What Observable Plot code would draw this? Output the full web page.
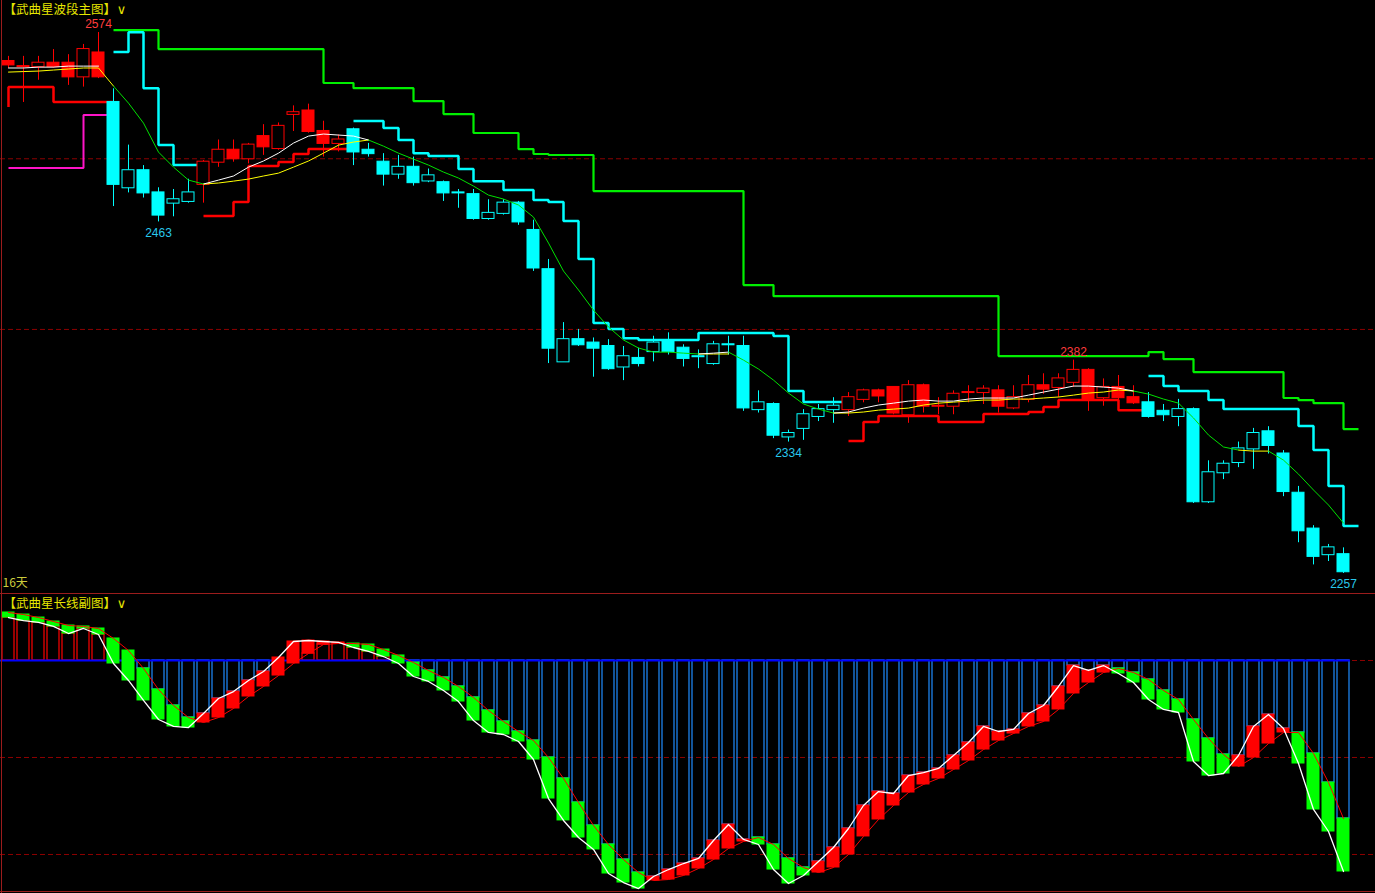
<!DOCTYPE html>
<html>
<head>
<meta charset="utf-8">
<script src="https://cdn.jsdelivr.net/npm/d3@7"></script>
<script src="https://cdn.jsdelivr.net/npm/@observablehq/plot@0.6"></script>
<style>
html,body{margin:0;padding:0;background:#000;overflow:hidden;}
#wrap{position:relative;width:1375px;height:893px;background:#000;}
#wrap svg{display:block;position:absolute;left:0;overflow:visible;}
.border{position:absolute;background:#9b1c1c;}
</style>
</head>
<body>
<div id="wrap"></div>
<script>
// ---------------- DATA ----------------
const mainTitle = "【武曲星波段主图】";
const subTitle = "【武曲星长线副图】";
const periodLabel = "16天";

// candles (price), one per trading day, left to right
const open = [2557,2554,2554,2556,2556,2548,2562,2533,2483,2493,
  2480,2474,2475,2485,2498,2505,2500,2513,2506,2526,
  2528,2516,2509,2517,2505,2498,2491,2495,2487,2486,
  2480,2479,2465,2468,2474,2458,2435,2381,2394,2392,
  2390,2378,2383,2387,2393,2389,2384,2380,2391,2390,
  2353,2356,2337,2342,2349,2353,2353,2359,2364,2366,
  2350,2367,2355,2355,2363,2363,2364,2354,2359,2367,
  2366,2369,2376,2360,2366,2360,2357,2352,2349,2353,
  2299,2316,2322,2330,2340,2327,2304,2283,2268,2268];
const close = [2555,2554,2556,2554,2548,2564,2548,2485,2493,2480,
  2467,2476,2480,2498,2505,2500,2508,2507,2519,2527,
  2516,2509,2511,2504,2503,2491,2495,2486,2490,2480,
  2480,2465,2468,2474,2463,2436,2389,2394,2391,2389,
  2377,2384,2380,2392,2387,2383,2384,2391,2391,2354,
  2357,2338,2339,2350,2353,2355,2360,2364,2361,2351,
  2367,2355,2355,2362,2363,2365,2355,2360,2367,2365,
  2371,2376,2359,2366,2360,2357,2349,2350,2353,2299,
  2316,2321,2330,2339,2332,2305,2282,2267,2272,2258];
const high = [2560,2560,2560,2564,2561,2567,2574,2541,2508,2496,
  2483,2482,2488,2499,2511,2511,2509,2520,2521,2531,
  2532,2522,2514,2518,2509,2503,2502,2501,2494,2487,
  2482,2482,2476,2476,2475,2464,2441,2404,2400,2395,
  2394,2390,2389,2396,2398,2391,2388,2393,2396,2396,
  2364,2357,2341,2353,2356,2360,2363,2365,2365,2366,
  2370,2368,2360,2364,2367,2367,2367,2367,2373,2374,
  2374,2382,2377,2371,2373,2367,2363,2356,2359,2354,
  2323,2323,2334,2342,2343,2329,2308,2285,2274,2272];
const low = [2553,2533,2546,2553,2543,2542,2547,2472,2480,2477,
  2463,2466,2474,2474,2495,2498,2497,2502,2505,2516,
  2515,2501,2504,2496,2501,2484,2488,2484,2486,2475,
  2471,2464,2464,2467,2461,2434,2380,2381,2390,2372,
  2376,2370,2378,2381,2385,2378,2377,2379,2385,2352,
  2351,2336,2334,2335,2346,2345,2349,2357,2357,2350,
  2345,2351,2350,2350,2357,2356,2351,2353,2357,2362,
  2360,2366,2352,2355,2357,2356,2348,2346,2343,2298,
  2298,2312,2319,2318,2327,2302,2275,2262,2264,2257];
// wave colour of each candle: r = up wave (red), c = down wave (cyan)
const wave = ["rrrrrrr","cccccc","rrrrrrrrrr",
  "cccccccccc"+"cccccccccc"+"cccccccccc"+"ccc",
  "rrrrrrrrrrrrrrrrrrrr","cccccccccccccc"].join("");

// labelled extremes: [candle index, which price]
const extremes = [[6,"high"],[10,"low"],[52,"low"],[71,"high"],[89,"low"]];

// moving-average lines, segments [first index, values]
const maWhite = [
  [0,[2553.2,2553.2,2553.7,2553.7,2554.3,2554.3,2554.3]],
  [13,[2485.2,2487.5,2489.9,2495.1,2498.7,2503.3,2509.2,2513.3,2514.5,2513.9,2513.3,2511.0]],
  [46,[2385.6,2386.1,2386.7]],
  [55,[2351.0,2351.6,2353.9,2355.7,2356.8,2358.0,2358.6,2358.0,2358.0,2359.2,2359.8,2359.8,2359.8,2361.5,2363.3,2365.0,2366.8,2366.8,2366.2,2365.6,2363.9]]
];
const maYellow = [
  [0,[2550.8,2551.1,2551.4,2552.0,2552.6,2553.2,2553.2,2542.6]],
  [13,[2485.2,2485.8,2486.9,2488.1,2489.9,2491.6,2495.1,2498.7,2503.3,2508.0,2509.8,2511.0]],
  [46,[2385.6,2385.6,2385.6]],
  [55,[2351.0,2351.0,2351.6,2352.7,2353.3,2353.9,2355.7,2356.8,2357.4,2358.0,2358.6,2358.6,2359.2,2359.2,2359.8,2360.4,2361.5,2362.7,2363.3,2364.5,2363.9]],
  [82,[2329.3,2328.7,2328.7]]
];
const maGreen = [
  [7,[2542.6,2532.6,2520.9,2503.9,2495.1,2487.5,2485.2]],
  [24,[2511.0,2507.4,2503.3,2499.8,2496.3,2492.2,2488.7,2484.0,2478.7,2476.4,2472.9,2465.8,2450.6,2434.2,2423.1,2411.3,2401.4,2393.8,2389.1,2386.7,2386.7,2386.1,2385.6]],
  [48,[2386.7,2382.0,2376.8,2370.3,2362.7,2356.3,2353.3,2351.0]],
  [75,[2363.9,2362.1,2359.2,2356.8,2348.1,2338.1,2331.1,2329.3]],
  [84,[2328.7,2323.4,2315.2,2305.9,2297.1,2286.5]]
];

// step lines: change points [index, level] (step-after), one array per segment
const cyanSteps = [
  [[7,2562.5],[8,2574.2],[9,2541.4],[10,2508.0],[11,2496.3],[13,2496.3]],
  [[23,2522.1],[25,2518.0],[26,2511.0],[27,2503.3],[28,2501.6],[30,2494.0],[31,2486.9],[33,2481.7],[35,2475.8],[36,2474.6],[37,2463.5],[38,2441.2],[39,2403.7],[40,2400.2],[41,2394.9],[42,2393.8],[46,2397.9],[51,2396.1],[52,2363.9],[53,2357.4],[56,2357.4]],
  [[76,2372.7],[77,2366.8],[78,2363.9],[80,2358.6],[81,2353.3],[86,2343.4],[87,2329.3],[88,2308.2],[89,2284.8],[90,2284.8]]
];
const greenSteps = [
  [[7,2575.4],[10,2564.3],[21,2544.4],[23,2541.4],[27,2533.8],[29,2526.2],[31,2515.1],[34,2505.7],[35,2502.8],[36,2502.2],[39,2481.1],[49,2426.0],[51,2419.5],[66,2384.4],[76,2386.7],[77,2382.6],[79,2375.0],[85,2359.8],[86,2358.6],[87,2356.8],[89,2341.6],[90,2341.6]]
];
const redSteps = [
  [[0,2530.3],[0,2542.0],[3,2533.2],[7,2533.2]],
  [[13,2466.4],[15,2474.6],[16,2495.7],[18,2498.1],[19,2502.8],[20,2505.7],[23,2505.7]],
  [[56,2334.6],[57,2345.7],[58,2349.2],[62,2345.7],[65,2350.4],[68,2351.6],[69,2354.5],[70,2358.6],[74,2352.7],[76,2352.7]]
];
const magentaSteps = [
  [[0,2494.6],[5,2525.6],[7,2525.6]]
];
const mainGridLevels = [2500, 2400];

// sub chart (long-line indicator)
const subWhite = [44.3,41.2,39.2,35.1,27.8,33.0,26.8,-3.1,-20.6,-41.2,
  -60.8,-68.0,-69.1,-54.6,-39.2,-32.0,-20.6,-11.3,3.1,19.6,
  20.6,19.6,18.6,13.4,9.3,4.1,-3.1,-16.5,-21.6,-30.9,
  -42.3,-61.9,-74.2,-76.3,-83.5,-102.1,-142.3,-164.9,-182.5,-194.8,
  -219.6,-228.9,-235.1,-222.7,-215.5,-209.3,-204.1,-185.6,-169.1,-184.5,
  -189.7,-215.5,-229.9,-221.6,-207.2,-192.8,-173.2,-149.5,-135.1,-137.1,
  -118.6,-115.5,-111.3,-97.9,-84.5,-68.0,-73.2,-71.1,-54.6,-46.4,
  -26.8,-5.2,-10.3,-5.2,-13.4,-22.7,-40.2,-50.5,-53.6,-104.1,
  -118.6,-116.5,-97.9,-68.0,-55.7,-70.1,-106.2,-153.6,-176.3,-217.5];
const subRed = [49.5,47.4,44.3,40.2,36.1,35.1,33.0,22.7,10.3,-8.2,
  -29.9,-46.4,-58.8,-63.9,-58.8,-49.5,-37.1,-26.8,-15.5,-3.1,
  7.2,16.5,17.5,17.5,16.5,11.3,5.2,-2.1,-10.3,-17.5,
  -26.8,-38.1,-51.5,-62.9,-73.2,-82.5,-100.0,-121.6,-146.4,-170.1,
  -189.7,-205.2,-218.6,-226.8,-225.8,-221.6,-214.4,-205.2,-193.8,-186.6,
  -182.5,-189.7,-204.1,-213.4,-218.6,-213.4,-200.0,-181.4,-163.9,-149.5,
  -136.1,-127.8,-121.6,-112.4,-103.1,-91.8,-82.5,-75.3,-68.0,-62.9,
  -50.5,-34.0,-22.7,-12.4,-8.2,-12.4,-19.6,-30.9,-40.2,-60.8,
  -80.4,-96.9,-109.3,-100.0,-85.6,-74.2,-74.2,-95.9,-125.8,-162.9];
const subGridLevels = [0, -100, -200];

// ---------------- STYLE ----------------
const RED = "#ff0000", CYAN = "#00ffff", GREEN = "#00ff00";
const YELLOW_TXT = "#e6e600";
const GRID = "#8c0000";
const NUM_FONT = "'Liberation Sans', Arial, sans-serif";
const CJK_FONT = "'Noto Sans CJK SC', sans-serif";
const WIDTH = 1375, H_MAIN = 593, H_SUB = 300;
const xScale = {type: "linear", domain: [-8/15, 1367/15], range: [0, WIDTH], axis: null};

// ---------------- DERIVED TABLES ----------------
const candles = open.map((o, i) => ({
  i, open: o, close: close[i], high: high[i], low: low[i],
  color: wave[i] === "r" ? RED : CYAN,
  hollow: close[i] > open[i]
}));
const segRows = (segs) => segs.flatMap((seg, k) => seg.map(([i, v]) => ({i, v, k})));
const maRows = (segs) => segs.flatMap(([start, vals], k) => vals.map((v, j) => ({i: start + j, v, k})));
const labelRows = extremes.map(([i, kind]) => ({
  i, kind, price: kind === "high" ? high[i] : low[i],
  color: wave[i] === "r" ? "#ff3c3c" : "#28c8ec"
}));
const subRows = subWhite.map((w, i) => {
  const r = subRed[i];
  let near = 0;
  if (w >= 0 && r >= 0) near = Math.min(w, r);
  else if (w <= 0 && r <= 0) near = Math.max(w, r);
  return {i, w, r, near};
});
const firstI = 0, lastI = open.length - 1;

// ---------------- MAIN CHART ----------------
const main = Plot.plot({
  width: WIDTH, height: H_MAIN, margin: 0,
  x: xScale,
  y: {domain: [2245.25, 2592.75], range: [H_MAIN, 0], axis: null},
  color: {type: "identity"},
  style: {background: "#000", fontFamily: NUM_FONT, overflow: "visible"},
  marks: [
    Plot.ruleY(mainGridLevels, {stroke: GRID, strokeDasharray: "5,3", strokeWidth: 1}),
    Plot.line(segRows(greenSteps), {x: "i", y: "v", z: "k", curve: "step-after", stroke: "#00f000", strokeWidth: 2.2, strokeLinejoin: "miter", strokeLinecap: "butt"}),
    Plot.line(segRows(redSteps), {x: "i", y: "v", z: "k", curve: "step-after", stroke: RED, strokeWidth: 2.5, strokeLinejoin: "miter", strokeLinecap: "butt"}),
    Plot.line(segRows(magentaSteps), {x: "i", y: "v", z: "k", curve: "step-after", stroke: "#ff14c8", strokeWidth: 2, strokeLinejoin: "miter", strokeLinecap: "butt"}),
    Plot.line(segRows(cyanSteps), {x: "i", y: "v", z: "k", curve: "step-after", stroke: CYAN, strokeWidth: 2.5, strokeLinejoin: "miter", strokeLinecap: "butt"}),
    // candles
    Plot.ruleX(candles, {x: "i", y1: "low", y2: "high", stroke: "color", strokeWidth: 1}),
    Plot.rect(candles, {
      x1: d => d.i - 0.4, x2: d => d.i + 0.4, y1: "open", y2: "close",
      fill: d => d.hollow ? "#000" : d.color, stroke: "color", strokeWidth: 1,
      insetTop: -0.5, insetBottom: -0.5
    }),
    // moving averages
    Plot.line(maRows(maYellow), {x: "i", y: "v", z: "k", stroke: "#ffff00", strokeWidth: 1}),
    Plot.line(maRows(maWhite), {x: "i", y: "v", z: "k", stroke: "#ffffff", strokeWidth: 1}),
    Plot.line(maRows(maGreen), {x: "i", y: "v", z: "k", stroke: "#00e000", strokeWidth: 1}),
    // extreme labels
    Plot.text(labelRows.filter(d => d.kind === "high"), {x: "i", y: "price", text: d => String(d.price), fill: "color", dy: -8, fontSize: 12, fontFamily: NUM_FONT}),
    Plot.text(labelRows.filter(d => d.kind === "low"), {x: "i", y: "price", text: d => String(d.price), fill: "color", dy: 11, fontSize: 12, fontFamily: NUM_FONT}),
    // titles
    Plot.text([mainTitle], {frameAnchor: "top-left", dx: 3, dy: 9, textAnchor: "start", lineAnchor: "middle", fill: YELLOW_TXT, fontSize: 12.5, fontFamily: CJK_FONT}),
    Plot.text(["∨"], {frameAnchor: "top-left", dx: 121, dy: 9, textAnchor: "middle", lineAnchor: "middle", fill: YELLOW_TXT, fontSize: 13, fontFamily: "'DejaVu Sans', sans-serif"}),
    Plot.text([periodLabel], {frameAnchor: "bottom-left", dx: 2, dy: -10, textAnchor: "start", lineAnchor: "middle", fill: "#cccc3c", fontSize: 12, fontFamily: CJK_FONT})
  ]
});

// ---------------- SUB CHART ----------------
const sub = Plot.plot({
  width: WIDTH, height: H_SUB, margin: 0,
  x: xScale,
  y: {domain: [-240.21, 69.07], range: [H_SUB, 0], axis: null},
  color: {type: "identity"},
  style: {background: "#000", fontFamily: NUM_FONT, overflow: "visible"},
  marks: [
    Plot.ruleY(subGridLevels, {stroke: GRID, strokeDasharray: "5,3", strokeWidth: 1}),
    Plot.rect(subRows.filter(d => d.near !== 0), {
      x1: d => d.i - 0.4, x2: d => d.i + 0.4, y1: d => 0, y2: "near",
      fill: "none", stroke: d => d.near < 0 ? "#1e8cff" : RED, strokeWidth: 1.2
    }),
    Plot.ruleY([0], {x1: firstI - 0.53, x2: lastI + 0.47, stroke: "#0000ff", strokeWidth: 2}),
    Plot.rect(subRows, {
      x1: d => d.i - 0.433, x2: d => d.i + 0.433, y1: "r", y2: "w",
      fill: d => d.w >= d.r ? RED : GREEN, insetTop: -0.5, insetBottom: -0.5
    }),
    Plot.line(subRows, {x: "i", y: "r", stroke: RED, strokeWidth: 1}),
    Plot.line(subRows, {x: "i", y: "w", stroke: "#ffffff", strokeWidth: 1.3}),
    Plot.text([subTitle], {frameAnchor: "top-left", dx: 3, dy: 10, textAnchor: "start", lineAnchor: "middle", fill: YELLOW_TXT, fontSize: 12.5, fontFamily: CJK_FONT}),
    Plot.text(["∨"], {frameAnchor: "top-left", dx: 121, dy: 10, textAnchor: "middle", lineAnchor: "middle", fill: YELLOW_TXT, fontSize: 13, fontFamily: "'DejaVu Sans', sans-serif"})
  ]
});

const wrap = document.getElementById("wrap");
main.style.top = "0px";
sub.style.top = H_MAIN + "px";
wrap.appendChild(main);
wrap.appendChild(sub);
// panel borders
[[1, 0, 1, 893], [0, 593, WIDTH, 1], [0, 891, WIDTH, 1]].forEach(([l, t, w, h]) => {
  const d = document.createElement("div");
  d.className = "border";
  Object.assign(d.style, {left: l + "px", top: t + "px", width: w + "px", height: h + "px"});
  wrap.appendChild(d);
});
</script>
</body>
</html>
